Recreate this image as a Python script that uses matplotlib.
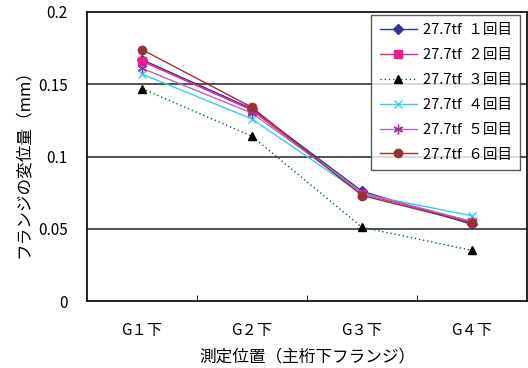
import matplotlib
matplotlib.use("Agg")
import matplotlib.pyplot as plt

plt.rcParams['font.family'] = ['Noto Sans CJK JP', 'DejaVu Sans']

categories = ["G１下", "G２下", "G３下", "G４下"]
series_labels = ["27.7tf  １回目", "27.7tf  ２回目", "27.7tf  ３回目",
                 "27.7tf  ４回目", "27.7tf  ５回目", "27.7tf  ６回目"]
s1 = [0.167, 0.133, 0.076, 0.053]
s2 = [0.166, 0.132, 0.074, 0.055]
s3 = [0.147, 0.114, 0.051, 0.035]
s4 = [0.157, 0.126, 0.074, 0.059]
s5 = [0.161, 0.130, 0.075, 0.055]
s6 = [0.174, 0.134, 0.073, 0.054]
yticks = [0, 0.05, 0.1, 0.15, 0.2]
ytick_labels = ["0", "0.05", "0.1", "0.15", "0.2"]

styles = [
    dict(color="#333399", marker="D", ms=5, ls="-", lw=1.0, mfc="#333399", mec="#333399"),
    dict(color="#EE1C8C", marker="s", ms=6, ls="-", lw=1.0, mfc="#EE1C8C", mec="#EE1C8C"),
    dict(color="#006633", marker="^", ms=6, ls=(0, (1, 2)), lw=1.0, mfc="black", mec="black"),
    dict(color="#33CCFF", marker="x", ms=6, ls="-", lw=1.0, mew=1.0),
    dict(color="#B266CC", marker=(6, 2, 0), ms=7, ls="-", lw=1.0, mew=1.0, mec="#993399"),
    dict(color="#993333", marker="o", ms=6, ls="-", lw=1.0, mfc="#993333", mec="#993333"),
]

fig = plt.figure(figsize=(5.28, 3.68), dpi=100)
ax = fig.add_axes([87/528, 1 - 301/368, 440/528, 289/368])

x = list(range(len(categories)))
for vals, lab, st in zip([s1, s2, s3, s4, s5, s6], series_labels, styles):
    ax.plot(x, vals, label=lab, **st)

ax.set_xlim(-0.5, len(categories) - 0.5)
ax.set_ylim(0, 0.2)
ax.set_yticks(yticks)
ax.set_yticklabels(ytick_labels, fontsize=11)
ax.tick_params(axis='y', length=0, pad=14)
ax.set_xticks(x)
ax.set_xticklabels(categories, fontsize=11)
ax.tick_params(axis='x', which='major', length=0, pad=15)
ax.set_xticks([i + 0.5 for i in x[:-1]], minor=True)
ax.tick_params(axis='x', which='minor', direction='in', length=4, color='black')

for yv in yticks[1:-1]:
    ax.axhline(yv, color='#333333', lw=1.2, zorder=0)
for sp in ax.spines.values():
    sp.set_color('black')
    sp.set_linewidth(1.2)

ax.set_ylabel("フランジの変位量（mm）", fontsize=12)
ax.yaxis.set_label_coords(-0.125, 0.488)
ax.set_xlabel("測定位置（主桁下フランジ）", fontsize=12, labelpad=7)

leg = ax.legend(loc='upper right', bbox_to_anchor=(0.985, 0.99), fontsize=10.5,
                frameon=True, fancybox=False, edgecolor='#333333',
                handlelength=2.6, borderpad=0.55, labelspacing=0.75,
                handletextpad=0.4, borderaxespad=0)
leg.get_frame().set_linewidth(1.0)

fig.savefig("out.png", dpi=100)
